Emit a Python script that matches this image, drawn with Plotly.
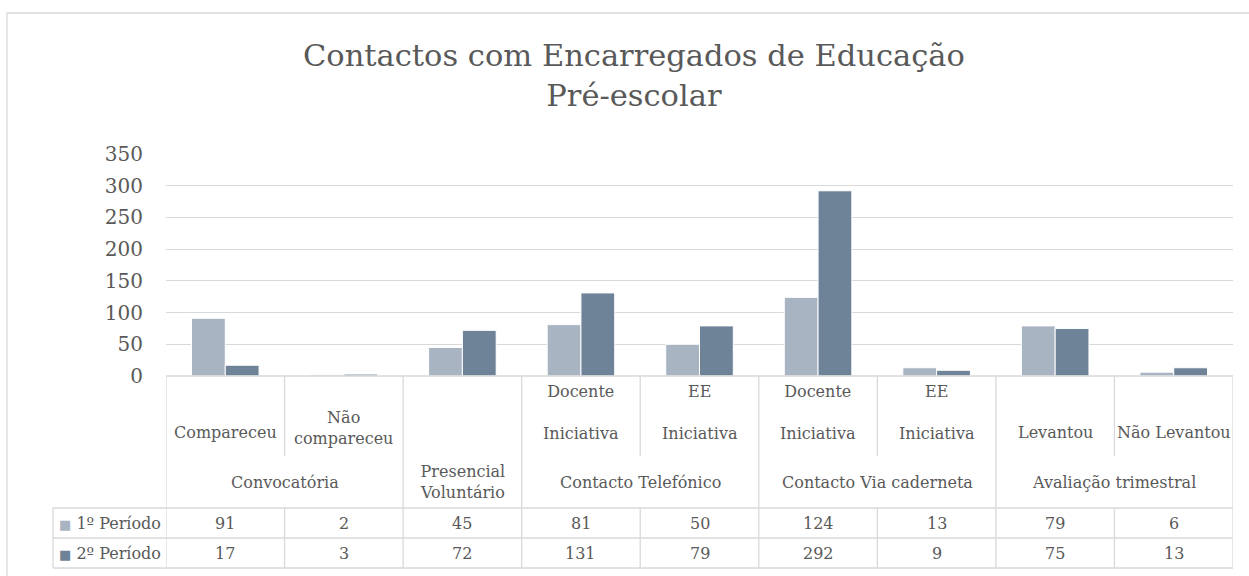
import plotly.graph_objects as go

# ---- data ----
sub_labels = ["Compareceu", "Não<br>compareceu", "", "Docente<br><br>Iniciativa",
              "EE<br><br>Iniciativa", "Docente<br><br>Iniciativa", "EE<br><br>Iniciativa",
              "Levantou", "Não Levantou"]
groups = ["Convocatória", "Presencial<br>Voluntário", "Contacto Telefónico",
          "Contacto Via caderneta", "Avaliação trimestral"]
group_spans = [(0, 1), (2, 2), (3, 4), (5, 6), (7, 8)]
series_names = ["1º Período", "2º Período"]
periodo1 = [91, 2, 45, 81, 50, 124, 13, 79, 6]
periodo2 = [17, 3, 72, 131, 79, 292, 9, 75, 13]
y_ticks = [0, 50, 100, 150, 200, 250, 300, 350]

# ---- styling ----
W, H = 1249, 576
L, R, T, B = 166, 16, 154, 8
TXT = "#595959"
GRID = "#d9d9d9"
FONT = "DejaVu Serif"
colors = ["#a9b4c2", "#6f8398"]

def fx(px):
    return (px - L) / (W - L - R)

def fy(py):
    return (H - B - py) / (H - T - B)

Y_ZERO, Y_SUB_END, Y_ROW1, Y_ROW2, Y_END = 376, 456, 508, 538, 568
LEGEND_X = 53

cats = list(range(len(periodo1)))
fig = go.Figure()
for name, vals, col in zip(series_names, [periodo1, periodo2], colors):
    fig.add_trace(go.Bar(x=cats, y=vals, name=name, marker_color=col,
                         marker_line_color="white", marker_line_width=1,
                         showlegend=False))

shapes = []
line = dict(color=GRID, width=1.3)
# outer chart border
shapes.append(dict(type="rect", xref="paper", yref="paper", x0=fx(7), x1=fx(1252),
                   y0=fy(580), y1=fy(13), line=dict(color=GRID, width=1.3), layer="below"))
# horizontal table lines
shapes.append(dict(type="line", xref="x", yref="paper", x0=-0.5, x1=8.5,
                   y0=fy(Y_ZERO), y1=fy(Y_ZERO), line=line))
for yy in (Y_ROW1, Y_ROW2, Y_END):
    shapes.append(dict(type="line", xref="paper", yref="paper", x0=fx(LEGEND_X), x1=1,
                       y0=fy(yy), y1=fy(yy), line=line))
shapes.append(dict(type="line", xref="paper", yref="paper", x0=fx(LEGEND_X), x1=fx(LEGEND_X),
                   y0=fy(Y_ROW1), y1=fy(Y_END), line=line))
# vertical table lines: group edges run the full header, inner edges stop below sub-labels
group_edges = {s - 0.5 for s, _ in group_spans} | {8.5}
for i in range(len(cats) + 1):
    xb = i - 0.5
    bottom_header = Y_ROW1 if xb in group_edges else Y_SUB_END
    shapes.append(dict(type="line", xref="x", yref="paper", x0=xb, x1=xb,
                       y0=fy(Y_ZERO), y1=fy(bottom_header), line=line))
    shapes.append(dict(type="line", xref="x", yref="paper", x0=xb, x1=xb,
                       y0=fy(Y_ROW1), y1=fy(Y_END), line=line))

ann = []
sub_y = {1: 432, 2: 428, 3: 412}
for i, lab in enumerate(sub_labels):
    if not lab:
        continue
    n = lab.count("<br>") + 1
    ann.append(dict(x=i, y=fy(sub_y[n]), xref="x", yref="paper", text=lab, showarrow=False,
                    font=dict(family=FONT, size=16, color=TXT), yanchor="middle"))
for g, (a, b) in zip(groups, group_spans):
    ann.append(dict(x=(a + b) / 2, y=fy(482), xref="x", yref="paper", text=g, showarrow=False,
                    font=dict(family=FONT, size=16, color=TXT), yanchor="middle"))
for r, (name, vals, col) in enumerate(zip(series_names, [periodo1, periodo2], colors)):
    yc = fy(523 + 30 * r)
    for i, v in enumerate(vals):
        ann.append(dict(x=i, y=yc, xref="x", yref="paper", text=str(v), showarrow=False,
                        font=dict(family=FONT, size=16, color=TXT), yanchor="middle"))
    ann.append(dict(x=fx(57), y=yc, xref="paper", yref="paper", xanchor="left",
                    text=f"<span style='color:{col};font-size:13px'>■</span> {name}",
                    showarrow=False,
                    font=dict(family=FONT, size=16, color=TXT), yanchor="middle"))
# title
ann.append(dict(x=fx(634), y=fy(75), xref="paper", yref="paper",
                text="Contactos com Encarregados de Educação<br>Pré-escolar", showarrow=False,
                font=dict(family=FONT, size=30.5, color=TXT), yanchor="middle", xanchor="center"))

fig.update_layout(
    template="none",
    width=W, height=H, margin=dict(l=L, r=R, t=T, b=B, autoexpand=False),
    paper_bgcolor="white", plot_bgcolor="white",
    barmode="group", bargap=0.43, bargroupgap=0,
    shapes=shapes, annotations=ann,
    xaxis=dict(range=[-0.5, 8.5], visible=False, automargin=False),
    yaxis=dict(domain=[fy(Y_ZERO), 1], range=[0, 350], tickvals=y_ticks, automargin=False,
               showgrid=True, gridcolor=GRID, gridwidth=1.3, zeroline=False,
               showline=False, ticks="", ticklabelstandoff=22,
               tickfont=dict(family=FONT, size=20, color=TXT)),
)
fig.write_html("out.html")
